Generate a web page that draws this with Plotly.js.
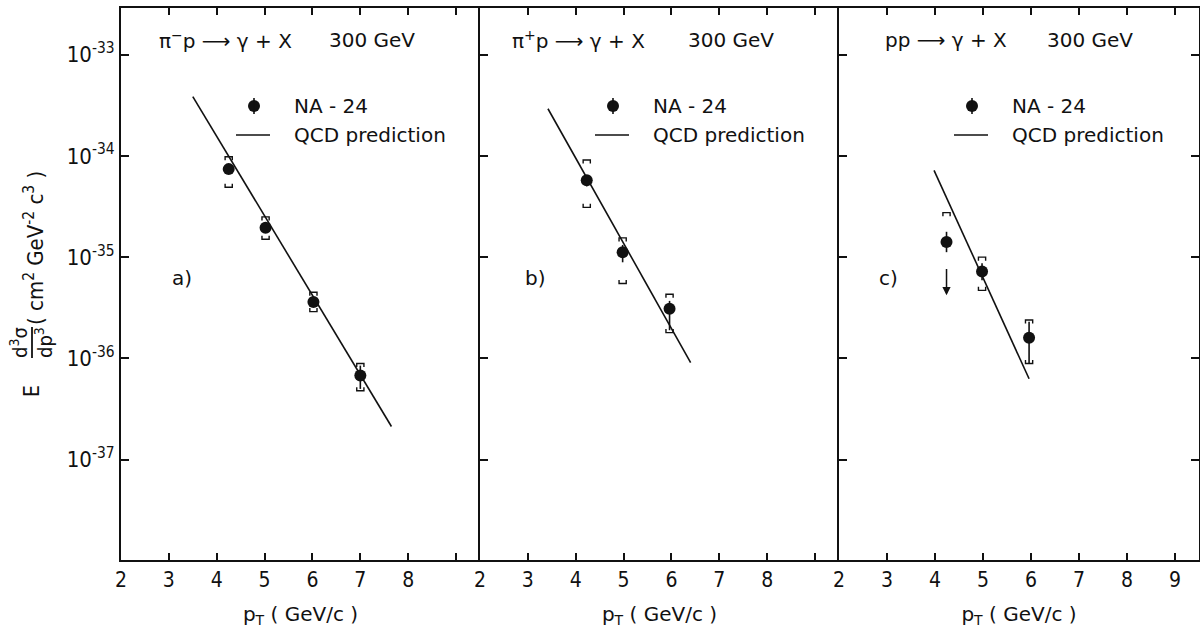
<!DOCTYPE html>
<html>
<head>
<meta charset="utf-8">
<script src="https://cdn.plot.ly/plotly-3.0.1.min.js"></script>
<style>html,body{margin:0;padding:0;background:#fff}</style>
</head>
<body>
<div id="chart" style="width:1200px;height:635px"></div>
<script>
// Direct photon invariant cross sections at 300 GeV, NA-24 data vs. QCD prediction

const panelLabels = ['a)', 'b)', 'c)'];
const reactions = ['π<sup>−</sup>p ⟶ γ + X', 'π<sup>+</sup>p ⟶ γ + X', 'pp ⟶ γ + X'];
const beamEnergy = '300 GeV';
const dataName = 'NA - 24';
const theoryName = 'QCD prediction';

// (a) pi- p
const ptA = [4.25, 5.02, 6.02, 7.0];
const sigA = [7.4e-35, 1.95e-35, 3.6e-36, 6.8e-37];
const statHiA = [7.4e-35, 1.95e-35, 3.6e-36, 8.5e-37];
const statLoA = [7.4e-35, 1.95e-35, 3.6e-36, 5.0e-37];
const sysHiA = [9.8e-35, 2.5e-35, 4.5e-36, 8.9e-37];
const sysLoA = [4.9e-35, 1.5e-35, 2.9e-36, 4.8e-37];
const qcdPtA = [3.5, 7.65];
const qcdA = [3.84e-34, 2.13e-37];

// (b) pi+ p
const ptB = [4.23, 4.98, 5.96];
const sigB = [5.75e-35, 1.12e-35, 3.1e-36];
const statHiB = [6.4e-35, 1.32e-35, 3.7e-36];
const statLoB = [5.0e-35, 8.9e-36, 1.9e-36];
const sysHiB = [9.1e-35, 1.55e-35, 4.3e-36];
const sysLoB = [3.1e-35, 5.5e-36, 1.8e-36];
const qcdPtB = [3.42, 6.40];
const qcdB = [2.92e-34, 9.1e-37];

// (c) p p
const ptC = [4.24, 4.98, 5.96];
const sigC = [1.41e-35, 7.2e-36, 1.6e-36];
const statHiC = [1.78e-35, 8.7e-36, 2.3e-36];
const statLoC = [1.12e-35, 5.9e-36, 8.9e-37];
const sysHiC = [2.75e-35, 1.0e-35, 2.4e-36];
const sysLoC = [null, 4.7e-36, 8.9e-37];
const qcdPtC = [3.98, 5.96];
const qcdC = [7.2e-35, 6.3e-37];
// upper-limit arrow on the first pp point
const limitPtC = 4.24;
const limitFromC = 7.9e-36;
const limitToC = 4.2e-36;

// axis ticks
const xTickVals = [2, 3, 4, 5, 6, 7, 8, 9];
const xTickTextAB = ['2', '3', '4', '5', '6', '7', '8', ''];
const xTickTextC = ['2', '3', '4', '5', '6', '7', '8', '9'];
const yTickVals = [1e-37, 1e-36, 1e-35, 1e-34, 1e-33];
const yTickText = ['10<sup>-37</sup>', '10<sup>-36</sup>', '10<sup>-35</sup>', '10<sup>-34</sup>', '10<sup>-33</sup>'];

const panels = [
  {pt: ptA, sig: sigA, hi: statHiA, lo: statLoA, sysHi: sysHiA, sysLo: sysLoA, qx: qcdPtA, qy: qcdA},
  {pt: ptB, sig: sigB, hi: statHiB, lo: statLoB, sysHi: sysHiB, sysLo: sysLoB, qx: qcdPtB, qy: qcdB},
  {pt: ptC, sig: sigC, hi: statHiC, lo: statLoC, sysHi: sysHiC, sysLo: sysLoC, qx: qcdPtC, qy: qcdC}
];

// plot-area geometry in pixels
const W = 1200, H = 635;
const L = 121, R = 1199, T = 8, B = 560;
const panelLeft = [121, 480, 839];
const px = p => (p - L) / (R - L);
const py = p => (B - p) / (B - T);

const NARROW = 'DejaVu Sans Condensed, DejaVu Sans, sans-serif';
const WIDE = 'DejaVu Sans, sans-serif';
const INK = '#111';

// bracket outline for systematic limits: cap plus short legs toward the point
function bracket(xs, ys, dir) {
  const bx = [], by = [];
  const hw = 0.075, leg = Math.pow(10, dir * 0.035);
  xs.forEach((x, i) => {
    const v = ys[i];
    if (v == null) return;
    bx.push(x - hw, x - hw, x + hw, x + hw, null);
    by.push(v * leg, v, v, v * leg, null);
  });
  return {x: bx, y: by};
}

const traces = [];
panels.forEach((p, k) => {
  const xa = k === 0 ? 'x' : 'x' + (k + 1);
  const ya = k === 0 ? 'y' : 'y' + (k + 1);
  traces.push({
    type: 'scatter', mode: 'lines', x: p.qx, y: p.qy, xaxis: xa, yaxis: ya,
    name: theoryName, showlegend: false, hoverinfo: 'skip',
    line: {color: INK, width: 1.6}
  });
  const capsHi = bracket(p.pt, p.sysHi, -1);
  const capsLo = bracket(p.pt, p.sysLo, 1);
  traces.push({
    type: 'scatter', mode: 'lines', x: capsHi.x.concat(capsLo.x), y: capsHi.y.concat(capsLo.y),
    xaxis: xa, yaxis: ya, showlegend: false, hoverinfo: 'skip',
    line: {color: INK, width: 1.4}
  });
  traces.push({
    type: 'scatter', mode: 'markers', x: p.pt, y: p.sig, xaxis: xa, yaxis: ya,
    name: dataName, showlegend: false,
    marker: {color: INK, size: 12, symbol: 'circle'},
    error_y: {
      type: 'data', symmetric: false,
      array: p.hi.map((h, i) => h - p.sig[i]),
      arrayminus: p.lo.map((l, i) => p.sig[i] - l),
      width: 0, thickness: 1.6, color: INK
    }
  });
});

function xAxis(k) {
  const d0 = px(panelLeft[k]);
  const d1 = k < 2 ? px(panelLeft[k + 1]) : 1;
  return {
    domain: [d0, d1], range: [2, 9.5], anchor: k === 0 ? 'y' : 'y' + (k + 1),
    tickmode: 'array', tickvals: xTickVals, ticktext: k < 2 ? xTickTextAB : xTickTextC,
    ticks: 'inside', ticklen: 7, tickwidth: 2, tickcolor: INK,
    showline: true, linewidth: 2, linecolor: INK, mirror: 'ticks',
    showgrid: false, zeroline: false, fixedrange: true,
    tickfont: {family: NARROW, size: 21, color: INK},
    title: {text: 'p<sub>T</sub> ( GeV/c )', font: {family: WIDE, size: 20, color: INK}, standoff: 16}
  };
}
function yAxis(k) {
  return {
    type: 'log', range: [-37.99, -32.54], anchor: k === 0 ? 'x' : 'x' + (k + 1),
    tickmode: 'array', tickvals: yTickVals, ticktext: yTickText,
    showticklabels: k === 0,
    ticks: 'inside', ticklen: 8, tickwidth: 2, tickcolor: INK,
    showline: true, linewidth: 2, linecolor: INK,
    // only the outer right edge carries mirrored ticks; separators are drawn once
    mirror: k === 2 ? 'ticks' : false,
    showgrid: false, zeroline: false, fixedrange: true,
    tickfont: {family: NARROW, size: 22, color: INK}
  };
}

const annotations = [];
const shapes = [];
const txt = (text, x, y, size, family, extra) => Object.assign({
  text: text, x: x, y: y, xref: 'paper', yref: 'paper', showarrow: false,
  xanchor: 'left', yanchor: 'middle', font: {family: family, size: size, color: INK}
}, extra || {});

const reactionOffset = [36, 30, 44];
const labelOffset = [49, 43, 38];
panelLeft.forEach((x0, k) => {
  annotations.push(txt(reactions[k], px(x0 + reactionOffset[k]), py(40), 20, WIDE));
  annotations.push(txt(beamEnergy, px(x0 + 206), py(40), 20, WIDE));
  annotations.push(txt(panelLabels[k], px(x0 + labelOffset[k]), py(278), 20, WIDE));
  // legend
  annotations.push(txt(dataName, px(x0 + 171), py(106), 20, WIDE));
  annotations.push(txt(theoryName, px(x0 + 171), py(135), 20, WIDE));
  shapes.push({
    type: 'circle', xref: 'paper', yref: 'paper', xsizemode: 'pixel', ysizemode: 'pixel',
    xanchor: px(x0 + 133), yanchor: py(106), x0: -6, x1: 6, y0: -6, y1: 6,
    fillcolor: INK, line: {width: 0}
  });
  shapes.push({
    type: 'line', xref: 'paper', yref: 'paper',
    x0: px(x0 + 133), x1: px(x0 + 133), y0: py(98), y1: py(114),
    line: {color: INK, width: 1.6}
  });
  shapes.push({
    type: 'line', xref: 'paper', yref: 'paper',
    x0: px(x0 + 115), x1: px(x0 + 149), y0: py(135), y1: py(135),
    line: {color: INK, width: 1.6}
  });
});

// upper-limit arrow
annotations.push({
  xref: 'x3', yref: 'y3', axref: 'x3', ayref: 'y3',
  x: limitPtC, y: Math.log10(limitToC), ax: limitPtC, ay: Math.log10(limitFromC),
  text: '', showarrow: true, arrowhead: 2, arrowsize: 1.1, arrowwidth: 1.5, arrowcolor: INK
});

// vertical y-axis title: E d3σ/dp3 ( cm2 GeV-2 c3 )
annotations.push(txt('E', px(32), py(391), 21, NARROW, {textangle: -90, xanchor: 'center'}));
annotations.push(txt('d<sup>3</sup>σ', px(19), py(343), 20, NARROW, {textangle: -90, xanchor: 'center'}));
annotations.push(txt('dp<sup>3</sup>', px(44), py(343), 20, NARROW, {textangle: -90, xanchor: 'center'}));
annotations.push(txt('( cm<sup>2</sup> GeV<sup>-2</sup> c<sup>3</sup> )', px(34), py(248), 22, NARROW, {textangle: -90, xanchor: 'center'}));
shapes.push({
  type: 'line', xref: 'paper', yref: 'paper',
  x0: px(32), x1: px(32), y0: py(327), y1: py(358),
  line: {color: INK, width: 1.8}
});

const layout = {
  width: W, height: H,
  margin: {l: L, r: W - R, t: T, b: H - B, pad: 0},
  paper_bgcolor: '#fff', plot_bgcolor: '#fff',
  showlegend: false,
  font: {family: WIDE, color: INK},
  xaxis: xAxis(0), xaxis2: xAxis(1), xaxis3: xAxis(2),
  yaxis: yAxis(0), yaxis2: yAxis(1), yaxis3: yAxis(2),
  annotations: annotations, shapes: shapes
};

Plotly.newPlot('chart', traces, layout, {staticPlot: true, displayModeBar: false});
</script>
</body>
</html>
